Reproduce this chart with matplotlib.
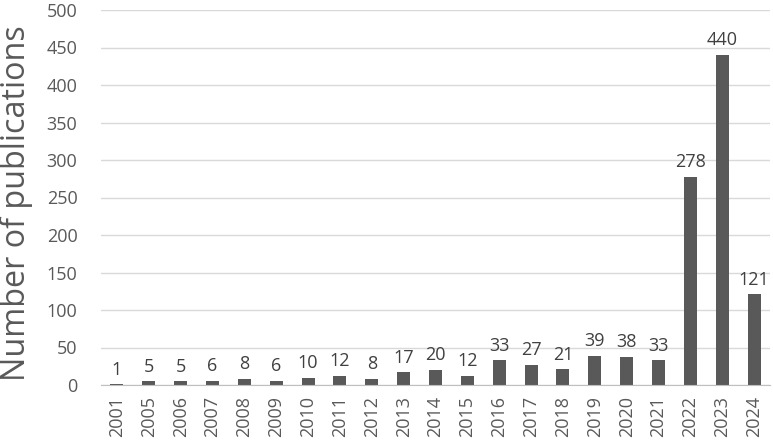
import matplotlib
matplotlib.use("Agg")
import matplotlib.pyplot as plt

years = ["2001", "2005", "2006", "2007", "2008", "2009", "2010", "2011", "2012",
         "2013", "2014", "2015", "2016", "2017", "2018", "2019", "2020", "2021",
         "2022", "2023", "2024"]
counts = [1, 5, 5, 6, 8, 6, 10, 12, 8, 17, 20, 12, 33, 27, 21, 39, 38, 33, 278, 440, 121]
yticks = [0, 50, 100, 150, 200, 250, 300, 350, 400, 450, 500]

plt.rcParams['font.family'] = ['Open Sans', 'DejaVu Sans']

fig = plt.figure(figsize=(7.73, 4.41), dpi=100)
ax = fig.add_axes([101/773, 1 - 385/441, (770-101)/773, (385-10)/441])

x = list(range(len(years)))
ax.bar(x, counts, width=0.41, color='#595959', zorder=3)
for xi, v in zip(x, counts):
    ax.annotate(str(v), (xi, v), xytext=(0, 4), textcoords='offset points',
                ha='center', va='bottom', fontsize=13, color='#404040')

ax.set_ylim(0, 500)
ax.set_xlim(-0.5, len(years) - 0.5)
ax.set_yticks(yticks)
ax.set_xticks(x)
ax.set_xticklabels(years, rotation=90, fontsize=13, color='#595959')
ax.tick_params(axis='y', labelsize=13, labelcolor='#595959', length=0, pad=17)
ax.tick_params(axis='x', length=0, pad=8)
ax.yaxis.grid(True, color='#d9d9d9', linewidth=1, zorder=0)
for s in ['top', 'right', 'left']:
    ax.spines[s].set_visible(False)
ax.spines['bottom'].set_color('#bfbfbf')
ax.spines['bottom'].set_zorder(4)
ax.set_ylabel("Number of publications", fontsize=23.3, color='#595959')
ax.yaxis.set_label_coords(-0.1016, 0.484)

fig.savefig("out.png", dpi=100)
